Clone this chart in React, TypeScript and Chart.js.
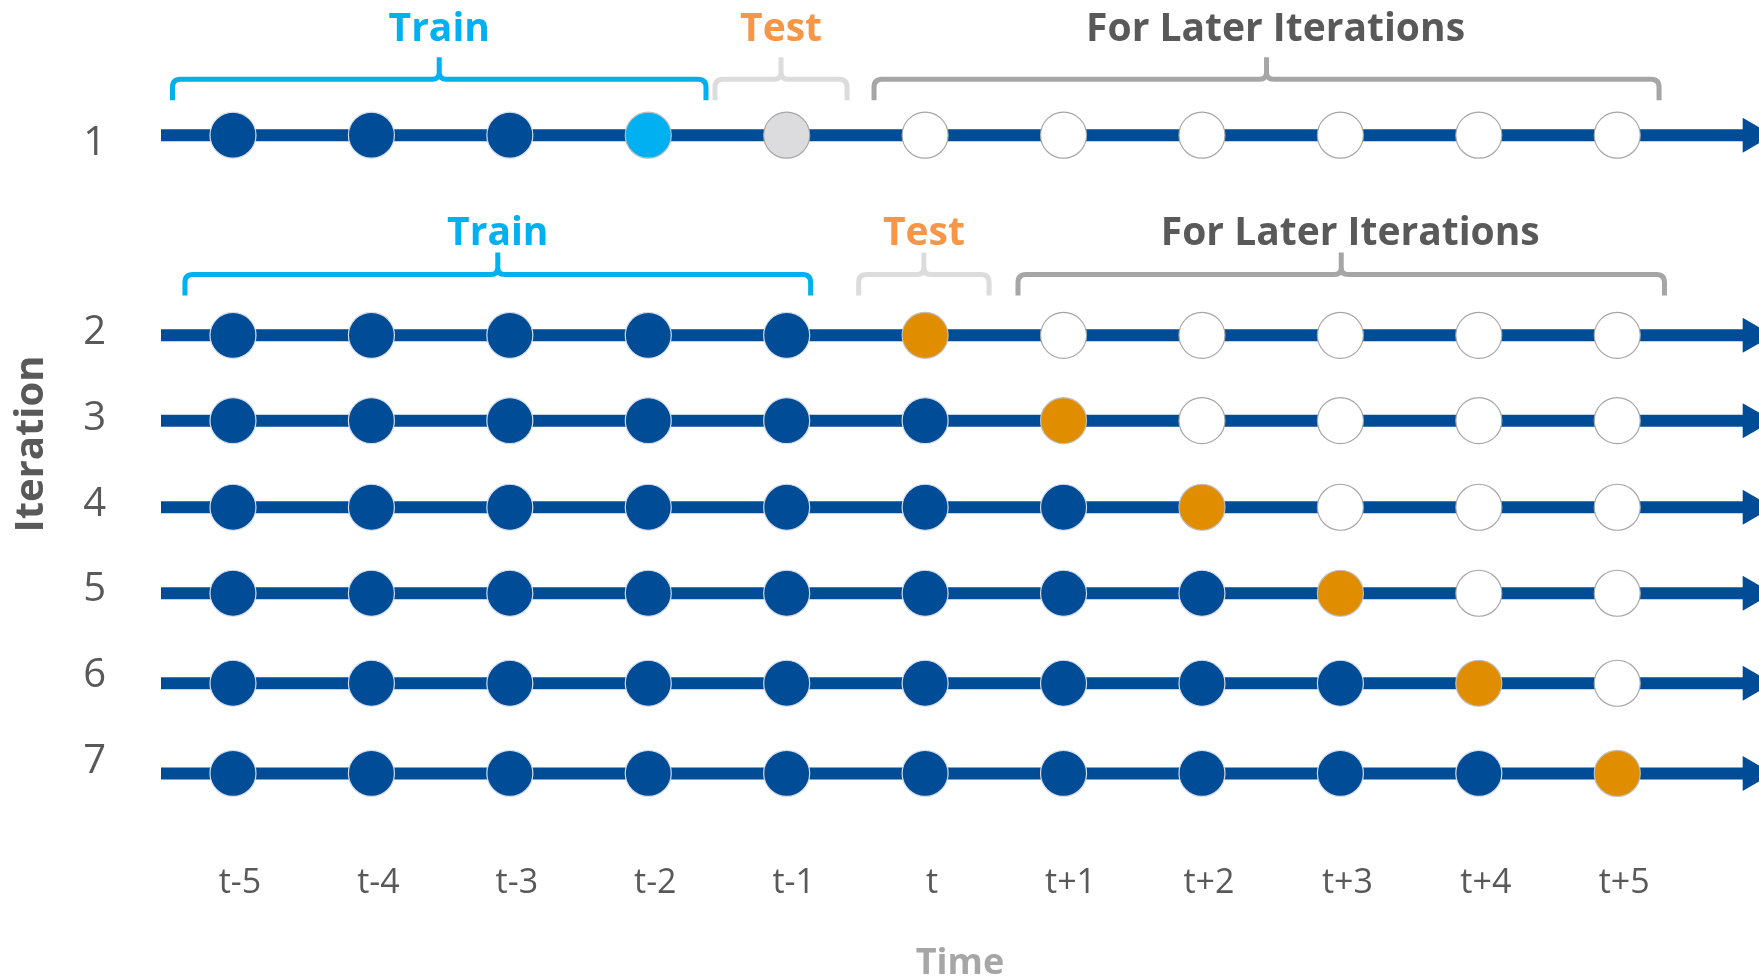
import React, { useEffect, useRef } from 'react';
import { Chart, registerables } from 'chart.js';

Chart.register(...registerables);

// ---------- data ----------
const TIME_LABELS = ['t-5', 't-4', 't-3', 't-2', 't-1', 't', 't+1', 't+2', 't+3', 't+4', 't+5'];
const TIME_VALUES = [-5, -4, -3, -2, -1, 0, 1, 2, 3, 4, 5];

const ITERATION_LABELS = ['1', '2', '3', '4', '5', '6', '7'];
const ITERATION_LABEL_POS = [-0.16, 2.05, 3.05, 4.05, 5.05, 6.05, 7.05];
const ROW_POS = [-0.259, 2.078, 3.074, 4.085, 5.089, 6.14, 7.193];

// T = train, V = validation (light blue), G = held out (grey), O = test (orange), L = later (empty)
const ITER_1 = ['T', 'T', 'T', 'V', 'G', 'L', 'L', 'L', 'L', 'L', 'L'];
const ITER_2 = ['T', 'T', 'T', 'T', 'T', 'O', 'L', 'L', 'L', 'L', 'L'];
const ITER_3 = ['T', 'T', 'T', 'T', 'T', 'T', 'O', 'L', 'L', 'L', 'L'];
const ITER_4 = ['T', 'T', 'T', 'T', 'T', 'T', 'T', 'O', 'L', 'L', 'L'];
const ITER_5 = ['T', 'T', 'T', 'T', 'T', 'T', 'T', 'T', 'O', 'L', 'L'];
const ITER_6 = ['T', 'T', 'T', 'T', 'T', 'T', 'T', 'T', 'T', 'O', 'L'];
const ITER_7 = ['T', 'T', 'T', 'T', 'T', 'T', 'T', 'T', 'T', 'T', 'O'];
const ITERATION_STATES = [ITER_1, ITER_2, ITER_3, ITER_4, ITER_5, ITER_6, ITER_7];

const BRACKET_LABELS = ['Train', 'Test', 'For Later Iterations'];
const BRACKETS_ROW_1 = [[-5.437, -1.583], [-1.518, -0.564], [-0.369, 5.302]];
const BRACKETS_ROW_2 = [[-5.347, -0.827], [-0.48, 0.462], [0.671, 5.341]];

const X_MIN = -5.52;
const X_MAX = 6.024;
const Y_MIN = -1.534;
const Y_MAX = 8.227;
const ARROW_AT = 5.979;

// ---------- styles ----------
const FONT = '"Open Sans", "Noto Sans", sans-serif';
const LINE_BLUE = '#004C97';
const STATE_FILL: Record<string, string> = { T: '#004C97', V: '#00B0F0', G: '#DCDCDE', O: '#E08E00', L: '#FFFFFF' };
const STATE_BORDER: Record<string, string> = { T: '#D6DDE9', V: '#BFBFBF', G: '#A6A6A6', O: '#BFBFBF', L: '#A6A6A6' };
const BRACKET_COLORS = ['#00B0F0', '#DCDCDC', '#A6A6A6'];
const LABEL_COLORS = ['#00B0F0', '#F79646', '#595959'];
const LABEL_SHIFT = [0, 0, 9];

const BRACKET_GROUPS = [
  { spans: BRACKETS_ROW_1, lineAt: -0.913, textAt: -1.363 },
  { spans: BRACKETS_ROW_2, lineAt: 1.367, textAt: 1.023 },
];

const bracketPlugin = {
  id: 'brackets',
  afterDatasetsDraw(chart: any) {
    const { ctx } = chart;
    const x = chart.scales.x;
    const y = chart.scales.y;
    BRACKET_GROUPS.forEach((group) => {
      const yh = y.getPixelForValue(group.lineAt);
      const yt = y.getPixelForValue(group.textAt);
      group.spans.forEach(([a, b], i) => {
        const x1 = x.getPixelForValue(a);
        const x2 = x.getPixelForValue(b);
        const xm = (x1 + x2) / 2;
        const leg = 21;
        const r = 8;
        const tip = 22;
        const c = 7;
        ctx.save();
        ctx.strokeStyle = BRACKET_COLORS[i];
        ctx.lineWidth = 5;
        ctx.lineJoin = 'round';
        ctx.beginPath();
        ctx.moveTo(x1, yh + leg);
        ctx.lineTo(x1, yh + r);
        ctx.quadraticCurveTo(x1, yh, x1 + r, yh);
        ctx.lineTo(xm - c, yh);
        ctx.quadraticCurveTo(xm, yh, xm, yh - c);
        ctx.lineTo(xm, yh - tip);
        ctx.moveTo(xm, yh - c);
        ctx.quadraticCurveTo(xm, yh, xm + c, yh);
        ctx.lineTo(x2 - r, yh);
        ctx.quadraticCurveTo(x2, yh, x2, yh + r);
        ctx.lineTo(x2, yh + leg);
        ctx.stroke();
        ctx.font = `bold 39px ${FONT}`;
        ctx.fillStyle = LABEL_COLORS[i];
        ctx.textAlign = 'center';
        ctx.textBaseline = 'alphabetic';
        ctx.fillText(BRACKET_LABELS[i], xm + LABEL_SHIFT[i], yt);
        ctx.restore();
      });
    });
  },
};

function buildDatasets() {
  return ITERATION_STATES.map((states, r) => {
    const yPos = ROW_POS[r];
    return {
      label: `Iteration ${ITERATION_LABELS[r]}`,
      data: [
        { x: X_MIN, y: yPos },
        ...TIME_VALUES.map((t) => ({ x: t, y: yPos })),
        { x: ARROW_AT, y: yPos },
      ],
      showLine: true,
      borderColor: LINE_BLUE,
      borderWidth: 12,
      tension: 0,
      clip: false,
      pointStyle: ['circle', ...states.map(() => 'circle'), 'triangle'],
      pointRadius: [0, ...states.map(() => 23), 20.2],
      pointHoverRadius: [0, ...states.map(() => 23), 20.2],
      pointRotation: [0, ...states.map(() => 0), 90],
      pointBackgroundColor: [LINE_BLUE, ...states.map((s) => STATE_FILL[s]), LINE_BLUE],
      pointBorderColor: [LINE_BLUE, ...states.map((s) => STATE_BORDER[s]), LINE_BLUE],
      pointBorderWidth: [0, ...states.map(() => 1.2), 0],
    };
  });
}

export default function App() {
  const canvasRef = useRef<HTMLCanvasElement | null>(null);

  useEffect(() => {
    if (!canvasRef.current) return;
    const chart = new Chart(canvasRef.current, {
      type: 'scatter',
      data: { datasets: buildDatasets() as any },
      plugins: [bracketPlugin],
      options: {
        responsive: false,
        animation: false,
        events: [],
        layout: { autoPadding: false, padding: { top: 26, left: 0, right: 0, bottom: 0 } },
        plugins: {
          legend: { display: false },
          tooltip: { enabled: false },
          title: { display: false },
        },
        scales: {
          x: {
            type: 'linear',
            min: X_MIN,
            max: X_MAX,
            grid: { display: false, drawTicks: false },
            border: { display: false },
            afterBuildTicks: (s: any) => {
              s.ticks = TIME_VALUES.map((v) => ({ value: v }));
            },
            afterFit: (s: any) => {
              s.height = 117;
              s.paddingLeft = 0;
              s.paddingRight = 0;
              s.paddingTop = 0;
              s.paddingBottom = 0;
            },
            ticks: {
              autoSkip: false,
              maxRotation: 0,
              minRotation: 0,
              labelOffset: 7,
              padding: 4,
              color: '#595959',
              font: { family: FONT, size: 34, lineHeight: 1 },
              callback: (_v: any, i: number) => TIME_LABELS[i],
            },
            title: {
              display: true,
              text: 'Time',
              color: '#A6A6A6',
              font: { family: FONT, size: 36, weight: 'bold', lineHeight: 0.85 },
              padding: { top: 0, bottom: 0 },
            },
          },
          y: {
            type: 'linear',
            reverse: true,
            min: Y_MIN,
            max: Y_MAX,
            grid: { display: false, drawTicks: false },
            border: { display: false },
            afterBuildTicks: (s: any) => {
              s.ticks = ITERATION_LABEL_POS.map((v) => ({ value: v }));
            },
            afterFit: (s: any) => {
              s.width = 161;
              s.paddingLeft = 0;
              s.paddingRight = 0;
              s.paddingTop = 0;
              s.paddingBottom = 0;
            },
            ticks: {
              autoSkip: false,
              padding: 55,
              color: '#595959',
              font: { family: FONT, size: 40, lineHeight: 1 },
              callback: (_v: any, i: number) => ITERATION_LABELS[i],
            },
            title: {
              display: true,
              text: 'Iteration',
              color: '#595959',
              font: { family: FONT, size: 40, weight: 'bold', lineHeight: 1 },
              padding: { top: 12, bottom: 0 },
            },
          },
        },
      } as any,
    });
    return () => {
      chart.destroy();
    };
  }, []);

  return (
    <div style={{ position: 'absolute', left: 0, top: 0, width: 1759, height: 979, background: '#ffffff' }}>
      <canvas ref={canvasRef} width={1759} height={979} style={{ display: 'block', width: 1759, height: 979 }} />
    </div>
  );
}
